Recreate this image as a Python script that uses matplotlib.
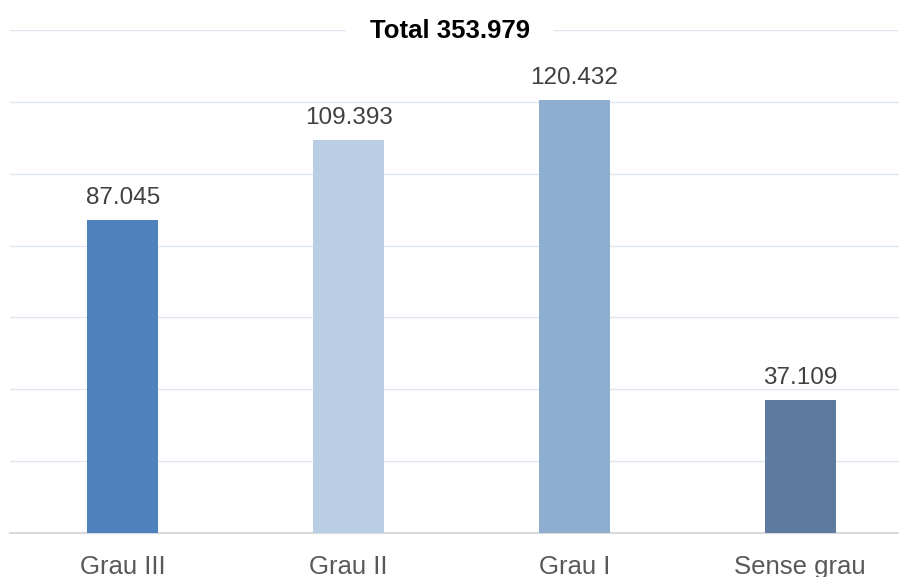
import matplotlib.pyplot as plt

# Data
categories = ["Grau III", "Grau II", "Grau I", "Sense grau"]
values = [87045, 109393, 120432, 37109]
labels = ["87.045", "109.393", "120.432", "37.109"]
colors = ["#4F81BD", "#B9CDE5", "#8EAED0", "#5F7A9F"]
title = "Total 353.979"

plt.rcParams["font.family"] = ["Liberation Sans", "DejaVu Sans"]

fig = plt.figure(figsize=(8.99, 5.77), dpi=100)
ax = fig.add_axes([10 / 899, 44 / 577, 903 / 899, 503 / 577])

x = range(len(categories))
ax.bar(x, values, width=0.315, color=colors, zorder=3)

for i, v in enumerate(values):
    ax.annotate(labels[i], (i, v), xytext=(0, 8), textcoords="offset points",
                ha="center", va="bottom", fontsize=17.5, color="#404040")

ax.set_xlim(-0.5, len(categories) - 0.5)
ax.set_ylim(0, 140000)
ax.set_yticks(range(0, 140001, 20000))
ax.yaxis.grid(True, color="#DEE6EF", linewidth=1, zorder=0)
ax.tick_params(axis="y", left=False, labelleft=False)
ax.set_xticks(list(x))
ax.set_xticklabels(categories, fontsize=18.5, color="#595959")
ax.tick_params(axis="x", length=0, pad=15.5)

for side in ["top", "right", "left"]:
    ax.spines[side].set_visible(False)
ax.spines["bottom"].set_color("#D9D9D9")
ax.spines["bottom"].set_linewidth(1.5)

fig.text(0.5, 1 - 31.5 / 577, title, ha="center", va="center", fontsize=18.5,
         fontweight="bold", color="black",
         bbox=dict(facecolor="white", edgecolor="none", pad=17))

fig.savefig("out.png", dpi=100)
